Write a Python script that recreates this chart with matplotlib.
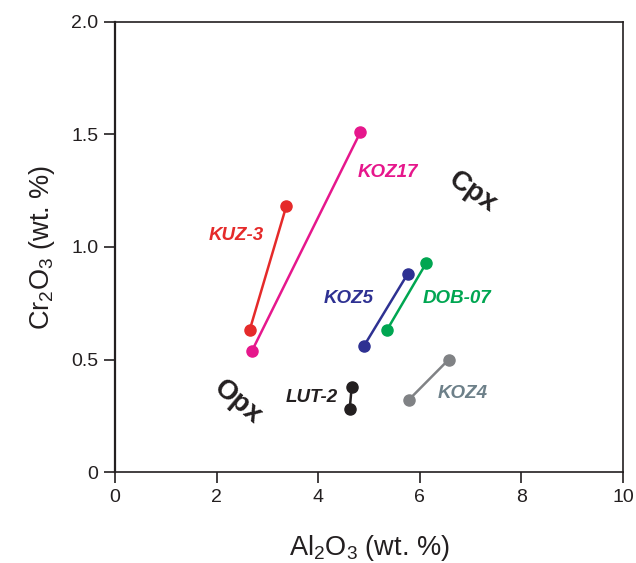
import matplotlib
matplotlib.use('Agg')
import matplotlib.pyplot as plt

plt.rcParams['font.family'] = ['Liberation Sans', 'DejaVu Sans']
plt.rcParams['mathtext.default'] = 'regular'

# sample pairs: (Opx, Cpx) compositions
samples = ['KUZ-3', 'KOZ17', 'KOZ5', 'DOB-07', 'LUT-2', 'KOZ4']
al2o3 = [[2.65, 3.37], [2.70, 4.83], [4.90, 5.76], [5.35, 6.13], [4.62, 4.66], [5.78, 6.57]]
cr2o3 = [[0.63, 1.18], [0.54, 1.51], [0.56, 0.88], [0.63, 0.93], [0.28, 0.38], [0.32, 0.50]]
colors = ['#E52A2A', '#E6178C', '#2E3192', '#00A651', '#231F20', '#808285']
label_colors = ['#E52A2A', '#E6178C', '#2E3192', '#00A651', '#231F20', '#6D8089']
label_x = [2.38, 5.38, 4.59, 6.74, 3.88, 6.85]
label_y = [1.05, 1.33, 0.77, 0.77, 0.33, 0.35]

fig = plt.figure(figsize=(6.36, 5.63), dpi=100)
ax = fig.add_axes([0.1808, 0.1616, 0.7988, 0.7994])

for i, name in enumerate(samples):
    ax.plot(al2o3[i], cr2o3[i], '-o', color=colors[i], lw=1.8, ms=8)
    ax.text(label_x[i], label_y[i], name, color=label_colors[i], fontsize=13.5,
            fontweight='bold', fontstyle='italic', ha='center', va='center')

ax.text(7.05, 1.245, 'Cpx', fontsize=20, fontweight='bold', rotation=-35,
        ha='center', va='center', color='#231F20')
ax.text(2.42, 0.31, 'Opx', fontsize=20, fontweight='bold', rotation=-40,
        ha='center', va='center', color='#231F20')

ax.set_xlim(0, 10)
ax.set_ylim(0, 2.0)
ax.set_xticks([0, 2, 4, 6, 8, 10])
ax.set_yticks([0, 0.5, 1.0, 1.5, 2.0])
ax.set_yticklabels(['0', '0.5', '1.0', '1.5', '2.0'])
ax.tick_params(direction='out', length=8, width=1.2, labelsize=14,
               colors='#231F20', pad=4)
for s in ax.spines.values():
    s.set_linewidth(1.2)
    s.set_color('#231F20')
ax.spines['left'].set_linewidth(1.6)

ax.set_xlabel('Al$_2$O$_3$ (wt. %)', fontsize=19.5, color='#231F20', labelpad=20)
ax.set_ylabel('Cr$_2$O$_3$ (wt. %)', fontsize=19.5, color='#231F20', labelpad=10)

fig.savefig('out.png', dpi=100)
